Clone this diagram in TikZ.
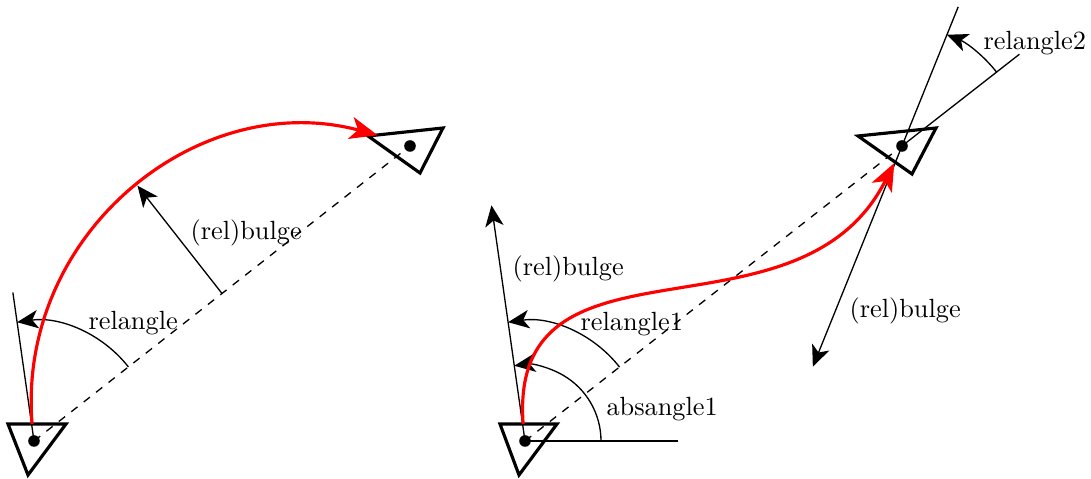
\documentclass[tikz,border=0pt]{standalone}
\usetikzlibrary{arrows.meta,calc}
% sub-curve of a cubic Bezier between parameters t0 and t1 (de Casteljau)
\newcommand\mysubcurve[7]{% #1 prefix, #2..#5 points, #6 t0, #7 t1
  \pgfmathsetmacro\myT{#7}%
  \pgfmathsetmacro\myS{#6/#7}%
  \coordinate (#1a1) at ($(#2)!\myT!(#3)$);
  \coordinate (#1a2) at ($(#3)!\myT!(#4)$);
  \coordinate (#1a3) at ($(#4)!\myT!(#5)$);
  \coordinate (#1b1) at ($(#1a1)!\myT!(#1a2)$);
  \coordinate (#1b2) at ($(#1a2)!\myT!(#1a3)$);
  \coordinate (#1c)  at ($(#1b1)!\myT!(#1b2)$);
  \coordinate (#1d1) at ($(#2)!\myS!(#1a1)$);
  \coordinate (#1d2) at ($(#1a1)!\myS!(#1b1)$);
  \coordinate (#1d3) at ($(#1b1)!\myS!(#1c)$);
  \coordinate (#1e1) at ($(#1d1)!\myS!(#1d2)$);
  \coordinate (#1e2) at ($(#1d2)!\myS!(#1d3)$);
  \coordinate (#1f)  at ($(#1e1)!\myS!(#1e2)$);
}
\begin{document}
\begin{tikzpicture}[x=0.38pt,y=0.38pt,
  thinline/.style={line width=0.5pt},
  arrowline/.style={line width=0.5pt,-{Stealth[length=8pt,width=7pt,inset=2.2pt]}},
  dashline/.style={line width=0.5pt,dashed},
  boat/.style={line width=1.2pt,line join=miter},
  redpath/.style={red,line width=1.2pt,-{Stealth[length=10.5pt,width=8.5pt,inset=2.8pt]}},
  lbl/.style={anchor=base west,inner sep=0pt}]
\useasboundingbox (0,0) rectangle (1091,479);

% ---------- left diagram ----------
\coordinate (A) at (34,38);
\coordinate (B) at (410,333);
\coordinate (M) at ($(A)!0.5!(B)$);
\coordinate (Aref) at ($(A)+(98.1:150)$);
\coordinate (Mtip) at ($(M)+(128.1:137)$);
\coordinate (P1) at ($(A)+(98.1:211)$);
\coordinate (P2) at ($(B)+(158.1:211)$);
\mysubcurve{L}{A}{P1}{P2}{B}{0.0275}{0.945}

\draw[boat,shift={(A)}] (-26,17) -- (32,17) -- (-6,-34) -- cycle;
\draw[boat,shift={(B)}] (-42,10) -- (33,18) -- (10,-27) -- cycle;
\fill (A) circle (5.8);
\fill (B) circle (5.8);

\draw[dashline] (A) -- (B);
\draw[thinline] (A) -- (Aref);
\draw[arrowline] ($(A)+(38.1:120)$) arc[start angle=38.1,end angle=98.1,radius=120];
\draw[arrowline] (M) -- (Mtip);
\draw[redpath] (Lf) .. controls (Le2) and (Ld3) .. (Lc);

\node[lbl] (l1) at (88,149) {relangle};
\node[lbl] (l2) at (190,239) {(rel)bulge};

% ---------- right diagram ----------
\coordinate (C) at (525,38);
\coordinate (D) at (902,333);
\coordinate (Chor) at ($(C)+(153,0)$);
\coordinate (Q1) at ($(C)+(98.1:238)$);
\coordinate (Q2) at ($(D)+(248:238)$);
\coordinate (Dref) at ($(D)+(68:150)$);
\coordinate (Dline) at ($(D)+(38:149)$);
\mysubcurve{R}{C}{Q1}{Q2}{D}{0.025}{0.973}

\draw[boat,shift={(C)}] (-25,17) -- (32,17) -- (-6,-34) -- cycle;
\draw[boat,shift={(D)}] (-44,10) -- (34,18) -- (10,-28) -- cycle;
\fill (C) circle (5.8);
\fill (D) circle (5.8);

\draw[dashline] (C) -- (D);
\draw[thinline] (C) -- (Chor);
\draw[thinline] (D) -- (Dref);
\draw[thinline] (D) -- (Dline);
\draw[arrowline] (C) -- (Q1);
\draw[arrowline] (D) -- (Q2);
\draw[arrowline] ($(C)+(0:76)$) arc[start angle=0,end angle=98.1,radius=76];
\draw[arrowline] ($(C)+(38:120)$) arc[start angle=38,end angle=98.1,radius=120];
\draw[arrowline] ($(D)+(38:120)$) arc[start angle=38,end angle=68,radius=120];
\draw[redpath] (Rf) .. controls (Re2) and (Rd3) .. (Rc);

\node[lbl] (r1) at (512,203) {(rel)bulge};
\node[lbl] (r2) at (580,148) {relangle1};
\node[lbl] (r3) at (606,63) {absangle1};
\node[lbl] (r4) at (983,429) {relangle2};
\node[lbl] (r5) at (849,161) {(rel)bulge};
\end{tikzpicture}
\end{document}
